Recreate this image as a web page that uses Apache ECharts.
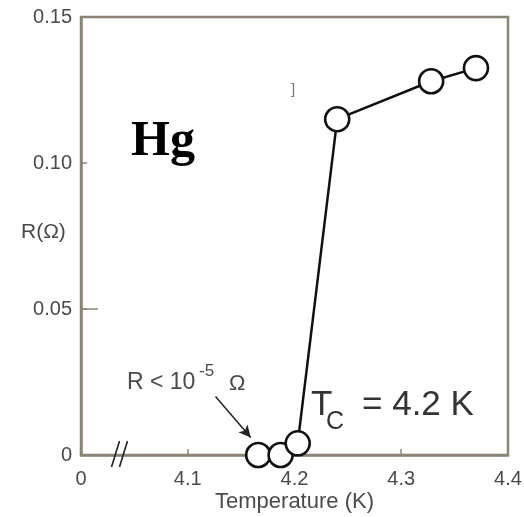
<!DOCTYPE html>
<html>
<head>
<meta charset="utf-8">
<script src="https://cdn.jsdelivr.net/npm/echarts@6/dist/echarts.min.js"></script>
<style>
  html, body { margin: 0; padding: 0; background: #fff; }
  #chart { width: 524px; height: 517px; }
</style>
</head>
<body>
<div id="chart"></div>
<script>
// Resistance of mercury across its superconducting transition
const temperatureK  = [4.166, 4.187, 4.203, 4.240, 4.328, 4.370];
const resistanceOhm = [0.0,   0.0,   0.004, 0.115, 0.128, 0.1325];

const xTicks      = [4.0, 4.1, 4.2, 4.3, 4.4];
const xTickLabels = ['0', '4.1', '4.2', '4.3', '4.4'];
const yTicks      = [0, 0.05, 0.10, 0.15];
const yTickLabels = ['0', '0.05', '0.10', '0.15'];

// arrow pointing at the zero-resistance points (data coordinates)
const arrowFrom = [4.126, 0.0200];
const arrowTo   = [4.159, 0.0060];
// where the "//" axis break sits on the temperature axis
const breakAt = 4.037;

const AXIS_COLOR = '#8a8474';
const TEXT_COLOR = '#4a4a4a';
const SANS = '"Liberation Sans", Arial, sans-serif';

function labelFor(ticks, labels, v) {
  let best = 0;
  for (let i = 1; i < ticks.length; i++) {
    if (Math.abs(ticks[i] - v) < Math.abs(ticks[best] - v)) best = i;
  }
  return labels[best];
}

const chart = echarts.init(document.getElementById('chart'), null, { renderer: 'canvas' });

chart.setOption({
  animation: false,
  backgroundColor: '#fff',
  grid: {
    left: 81, right: 16, top: 17, bottom: 62,
    outerBoundsMode: 'none',
    containLabel: false,
    show: true,
    borderColor: AXIS_COLOR,
    borderWidth: 2.5,
    backgroundColor: 'transparent'
  },
  xAxis: {
    type: 'value',
    min: 4.0, max: 4.4, interval: 0.1,
    name: 'Temperature (K)',
    nameLocation: 'middle',
    nameGap: 36,
    nameMoveOverlap: false,
    nameTextStyle: { color: TEXT_COLOR, fontFamily: SANS, fontSize: 22 },
    axisLine: { show: true, lineStyle: { color: AXIS_COLOR, width: 2.5 } },
    axisTick: { show: true, inside: true, length: 6, lineStyle: { color: AXIS_COLOR, width: 1.5 } },
    axisLabel: {
      color: TEXT_COLOR, fontFamily: SANS, fontSize: 20, margin: 14,
      showMinLabel: true, showMaxLabel: true,
      formatter: v => labelFor(xTicks, xTickLabels, v)
    },
    splitLine: { show: false }
  },
  yAxis: {
    type: 'value',
    min: 0, max: 0.15, interval: 0.05,
    axisLine: { show: true, lineStyle: { color: AXIS_COLOR, width: 2.5 } },
    axisTick: { show: true, inside: true, length: 6, lineStyle: { color: AXIS_COLOR, width: 1.5 } },
    axisLabel: {
      color: TEXT_COLOR, fontFamily: SANS, fontSize: 20, margin: 9,
      formatter: v => labelFor(yTicks, yTickLabels, v)
    },
    splitLine: { show: false }
  },
  series: [{
    type: 'line',
    data: temperatureK.map((t, i) => [t, resistanceOhm[i]]),
    symbol: 'circle',
    symbolSize: 24,
    showAllSymbol: true,
    lineStyle: { color: '#111', width: 2.5 },
    itemStyle: { color: '#fff', borderColor: '#111', borderWidth: 2.6 },
    z: 5,
    markLine: {
      silent: true,
      symbol: ['none', 'arrow'],
      symbolSize: [9, 12],
      lineStyle: { color: '#222', width: 1.5, type: 'solid' },
      label: { show: false },
      data: [[{ coord: arrowFrom }, { coord: arrowTo }]]
    }
  }]
});

// annotations and axis decorations placed relative to the grid
const p = (x, y) => chart.convertToPixel({ gridIndex: 0 }, [x, y]);
const brk = p(breakAt, 0);
const tick05 = p(4.0, 0.05);

chart.setOption({
  graphic: [
    // axis break marks
    { type: 'line', z: 10, shape: { x1: brk[0] - 9, y1: brk[1] + 12, x2: brk[0] - 1, y2: brk[1] - 14 },
      style: { stroke: '#222', lineWidth: 1.6 } },
    { type: 'line', z: 10, shape: { x1: brk[0] - 1, y1: brk[1] + 12, x2: brk[0] + 7, y2: brk[1] - 14 },
      style: { stroke: '#222', lineWidth: 1.6 } },
    // longer tick at 0.05
    { type: 'line', z: 10, shape: { x1: tick05[0], y1: tick05[1], x2: tick05[0] + 17, y2: tick05[1] },
      style: { stroke: AXIS_COLOR, lineWidth: 1.5 } },
    // y axis title
    { type: 'text', x: 21, y: 232, z: 10,
      style: { text: 'R(Ω)', fill: TEXT_COLOR, font: '21px ' + SANS, textAlign: 'left', textVerticalAlign: 'middle' } },
    // element label
    { type: 'text', x: 131, y: 142, z: 10,
      style: { text: 'Hg', fill: '#000', font: 'bold 50px "Liberation Serif", "Times New Roman", serif',
               textAlign: 'left', textVerticalAlign: 'middle' } },
    // stray mark near top
    { type: 'text', x: 291, y: 90, z: 10,
      style: { text: ']', fill: '#777', font: '15px ' + SANS, textAlign: 'left', textVerticalAlign: 'middle' } },
    // zero-resistance note
    { type: 'text', x: 127, y: 383, z: 10,
      style: { text: 'R < 10', fill: TEXT_COLOR, font: '23px ' + SANS, textAlign: 'left', textVerticalAlign: 'middle' } },
    { type: 'text', x: 199, y: 371, z: 10,
      style: { text: '-5', fill: TEXT_COLOR, font: '17px ' + SANS, textAlign: 'left', textVerticalAlign: 'middle' } },
    { type: 'text', x: 229, y: 384, z: 10,
      style: { text: 'Ω', fill: TEXT_COLOR, font: '22px ' + SANS, textAlign: 'left', textVerticalAlign: 'middle' } },
    // critical temperature
    { type: 'text', x: 311, y: 405, z: 10,
      style: { text: 'T', fill: '#333', font: '35px ' + SANS, textAlign: 'left', textVerticalAlign: 'middle' } },
    { type: 'text', x: 326, y: 422, z: 10,
      style: { text: 'C', fill: '#333', font: '25px ' + SANS, textAlign: 'left', textVerticalAlign: 'middle' } },
    { type: 'text', x: 362, y: 405, z: 10,
      style: { text: '= 4.2 K', fill: '#333', font: '35px ' + SANS, textAlign: 'left', textVerticalAlign: 'middle' } }
  ]
});
</script>
</body>
</html>
